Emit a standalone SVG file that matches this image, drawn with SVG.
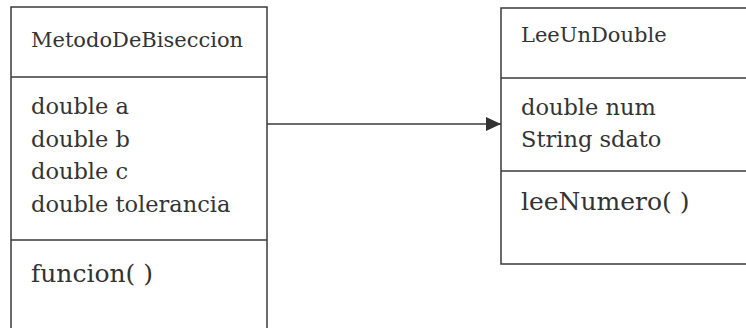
<svg xmlns="http://www.w3.org/2000/svg" width="746" height="328" viewBox="0 0 746 328">
  <style>
    .box { fill: #fff; stroke: #3a3a3a; stroke-width: 1.5; }
    .div { stroke: #3a3a3a; stroke-width: 1.5; }
    text { font-family: 'DejaVu Serif', serif; fill: #333; }
    .title { font-size: 21px; }
    .attr { font-size: 22.5px; }
    .meth { font-size: 25px; }
    .conn { stroke: #3a3a3a; stroke-width: 1.5; fill: none; }
  </style>
  <defs>
    <marker id="arrow" markerWidth="16" markerHeight="14" refX="15" refY="7" orient="auto" markerUnits="userSpaceOnUse">
      <path d="M0,0 L15,7 L0,14 Z" fill="#333"/>
    </marker>
  </defs>
  <rect width="746" height="328" fill="#fff"/>

  <!-- class box: MetodoDeBiseccion (runs past the bottom edge) -->
  <g id="MetodoDeBiseccion">
    <rect class="box" x="11" y="7" width="256" height="340"/>
    <line class="div" x1="11" y1="77" x2="267" y2="77"/>
    <line class="div" x1="11" y1="240" x2="267" y2="240"/>
    <text class="title" x="31" y="47">MetodoDeBiseccion</text>
    <text class="attr" x="31" y="114">double a</text>
    <text class="attr" x="31" y="147">double b</text>
    <text class="attr" x="31" y="179">double c</text>
    <text class="attr" x="31" y="212">double tolerancia</text>
    <text class="meth" x="31" y="282">funcion( )</text>
  </g>

  <!-- class box: LeeUnDouble (runs past the right edge) -->
  <g id="LeeUnDouble">
    <rect class="box" x="501" y="8" width="260" height="256"/>
    <line class="div" x1="501" y1="78" x2="761" y2="78"/>
    <line class="div" x1="501" y1="171" x2="761" y2="171"/>
    <text class="title" x="521" y="42">LeeUnDouble</text>
    <text class="attr" x="521" y="115">double num</text>
    <text class="attr" x="521" y="147">String sdato</text>
    <text class="meth" x="521" y="210">leeNumero( )</text>
  </g>

  <g id="connectors">
    <line class="conn" x1="267" y1="124" x2="501" y2="124" marker-end="url(#arrow)"/>
  </g>
</svg>
